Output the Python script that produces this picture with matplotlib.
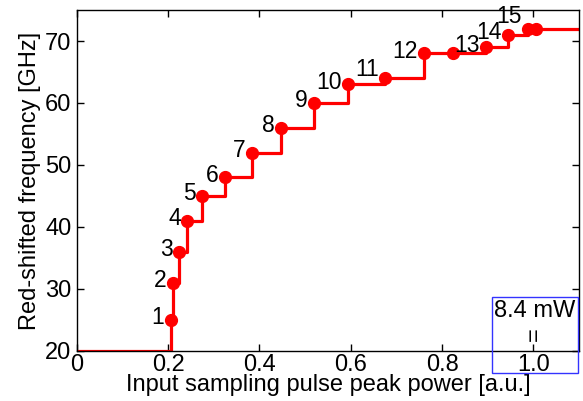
import matplotlib.pyplot as plt
from matplotlib.patches import Rectangle

plt.rcParams["font.family"] = ["Liberation Sans", "DejaVu Sans"]

# measured points (peak power, red-shifted frequency)
power = [0.205, 0.210, 0.223, 0.242, 0.275, 0.324, 0.383, 0.448, 0.520,
         0.594, 0.675, 0.760, 0.825, 0.897, 0.945, 0.989, 1.007]
freq = [25, 31, 36, 41, 45, 48, 52, 56, 60, 63, 64, 68, 68, 69, 71, 72, 72]
labels = ["1", "2", "3", "4", "5", "6", "7", "8", "9", "10", "11", "12",
          "", "13", "14", "15", ""]

x_start, y_start = 0.0, 20
x_end = 1.1

RED = "#ff0000"

fig = plt.figure(figsize=(5.83, 4.01), dpi=100)
ax = fig.add_axes([0.132, 0.125, 0.861, 0.850])

# step line: stays at previous level until next point, then jumps
ax.step([x_start] + power + [x_end], [y_start] + freq + [freq[-1]],
        where="post", color=RED, linewidth=2.3, zorder=2)
ax.plot(power, freq, "o", color=RED, markersize=8.5, zorder=3)

raise_more = {"11": 5, "15": 7}
for x, y, lab in zip(power, freq, labels):
    if not lab:
        continue
    ax.annotate(lab, (x, y), xytext=(-4.5, 1.5 + raise_more.get(lab, 0)),
                textcoords="offset points", ha="right", va="center",
                fontsize=16.5)

ax.set_xlim(0, x_end)
ax.set_ylim(20, 75)
ax.set_xticks([0, 0.2, 0.4, 0.6, 0.8, 1.0])
ax.set_xticklabels(["0", "0.2", "0.4", "0.6", "0.8", "1.0"])
ax.set_yticks([20, 30, 40, 50, 60, 70])
ax.tick_params(direction="in", top=True, right=True, length=5, width=1,
               labelsize=17, pad=2)
ax.tick_params(axis="y", pad=4)
for s in ax.spines.values():
    s.set_linewidth(1)
ax.set_xlabel("Input sampling pulse peak power [a.u.]", fontsize=17, labelpad=-1)
ax.set_ylabel("Red-shifted frequency [GHz]", fontsize=17, labelpad=3)

# power annotation box
fig.patches.append(Rectangle((492 / 583, 1 - 373 / 401), 86 / 583, 76 / 401,
                             transform=fig.transFigure, fill=False,
                             edgecolor="#3333ff", linewidth=1))
fig.text(535 / 583, 1 - 311 / 401, "8.4 mW", ha="center", va="center",
         fontsize=17)
fig.text(535 / 583, 1 - 334 / 401, "=", ha="center", va="center",
         fontsize=17, rotation=90)

fig.savefig("out.png", dpi=100)
